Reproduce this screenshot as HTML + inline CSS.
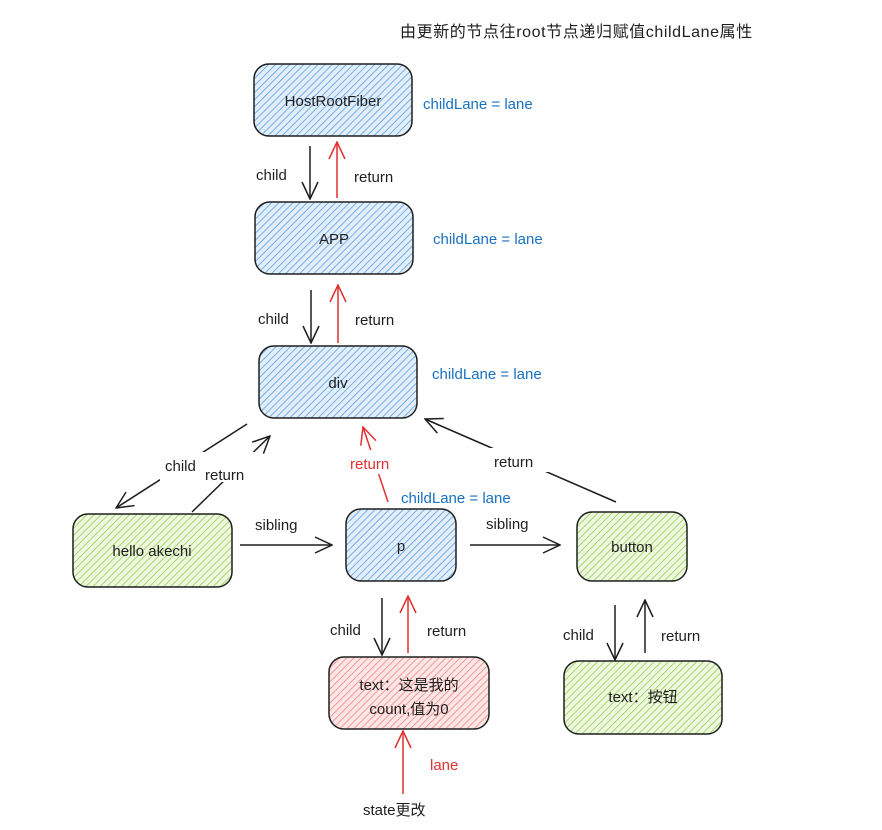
<!DOCTYPE html>
<html><head><meta charset="utf-8"><style>
html,body{margin:0;padding:0;background:#fff;}
svg{display:block;}
text{font-family:"Liberation Sans","Noto Sans CJK SC",sans-serif;font-size:15px;fill:#1e1e1e;}
.b{fill:#1971c2;}
.r{fill:#e03131;}
</style></head><body>
<svg width="882" height="830" viewBox="0 0 882 830" xmlns="http://www.w3.org/2000/svg">
<defs>
<pattern id="pb" width="5" height="5" patternUnits="userSpaceOnUse" patternTransform="rotate(45)"><rect width="5" height="5" fill="#e2eefa"/><line x1="0" y1="0" x2="0" y2="5" stroke="#6aa9e6" stroke-width="1.8"/></pattern>
<pattern id="pg" width="5" height="5" patternUnits="userSpaceOnUse" patternTransform="rotate(45)"><rect width="5" height="5" fill="#eef7e0"/><line x1="0" y1="0" x2="0" y2="5" stroke="#a2d35e" stroke-width="1.8"/></pattern>
<pattern id="pr" width="5" height="5" patternUnits="userSpaceOnUse" patternTransform="rotate(45)"><rect width="5" height="5" fill="#fde6e6"/><line x1="0" y1="0" x2="0" y2="5" stroke="#f29090" stroke-width="1.8"/></pattern>
<marker id="ak" viewBox="0 0 20 20" refX="19" refY="10" markerWidth="20" markerHeight="20" markerUnits="userSpaceOnUse" orient="auto"><path d="M2 2 L19 10 L2 18" fill="none" stroke="#1e1e1e" stroke-width="1.5"/></marker>
<marker id="ar" viewBox="0 0 20 20" refX="19" refY="10" markerWidth="20" markerHeight="20" markerUnits="userSpaceOnUse" orient="auto"><path d="M2 2 L19 10 L2 18" fill="none" stroke="#e03131" stroke-width="1.5"/></marker>
</defs>
<g stroke="#1e1e1e" stroke-width="1.5">
<rect x="254" y="64" width="158" height="72" rx="15" fill="url(#pb)"/>
<rect x="255" y="202" width="158" height="72" rx="15" fill="url(#pb)"/>
<rect x="259" y="346" width="158" height="72" rx="15" fill="url(#pb)"/>
<rect x="73" y="514" width="159" height="73" rx="15" fill="url(#pg)"/>
<rect x="346" y="509" width="110" height="72" rx="15" fill="url(#pb)"/>
<rect x="577" y="512" width="110" height="69" rx="15" fill="url(#pg)"/>
<rect x="329" y="657" width="160" height="72" rx="15" fill="url(#pr)"/>
<rect x="564" y="661" width="158" height="73" rx="15" fill="url(#pg)"/>
</g>
<g fill="none" stroke-width="1.5">
<line x1="310" y1="146" x2="310" y2="199" stroke="#1e1e1e" marker-end="url(#ak)"/>
<line x1="337" y1="198" x2="337" y2="142" stroke="#e03131" marker-end="url(#ar)"/>
<line x1="311" y1="290" x2="311" y2="343" stroke="#1e1e1e" marker-end="url(#ak)"/>
<line x1="338" y1="343" x2="338" y2="285" stroke="#e03131" marker-end="url(#ar)"/>
<line x1="247" y1="424" x2="116" y2="508" stroke="#1e1e1e" marker-end="url(#ak)"/>
<line x1="192" y1="512" x2="270" y2="436" stroke="#1e1e1e" marker-end="url(#ak)"/>
<line x1="388" y1="502" x2="363" y2="427" stroke="#e03131" marker-end="url(#ar)"/>
<line x1="616" y1="502" x2="425" y2="419" stroke="#1e1e1e" marker-end="url(#ak)"/>
<line x1="240" y1="545" x2="332" y2="545" stroke="#1e1e1e" marker-end="url(#ak)"/>
<line x1="470" y1="545" x2="560" y2="545" stroke="#1e1e1e" marker-end="url(#ak)"/>
<line x1="382" y1="598" x2="382" y2="655" stroke="#1e1e1e" marker-end="url(#ak)"/>
<line x1="408" y1="653" x2="408" y2="596" stroke="#e03131" marker-end="url(#ar)"/>
<line x1="615" y1="605" x2="615" y2="660" stroke="#1e1e1e" marker-end="url(#ak)"/>
<line x1="645" y1="653" x2="645" y2="600" stroke="#1e1e1e" marker-end="url(#ak)"/>
<line x1="403" y1="794" x2="403" y2="731" stroke="#e03131" marker-end="url(#ar)"/>
</g>
<rect x="160" y="452" width="100" height="30" fill="#fff"/>
<rect x="345" y="450" width="62" height="24" fill="#fff"/>
<rect x="488" y="448" width="66" height="24" fill="#fff"/>
<text x="400" y="37" style="font-size:16px;letter-spacing:0.6px">由更新的节点往root节点递归赋值childLane属性</text>
<text x="333" y="106" text-anchor="middle">HostRootFiber</text>
<text x="334" y="244" text-anchor="middle">APP</text>
<text x="338" y="388" text-anchor="middle">div</text>
<text x="152" y="556" text-anchor="middle">hello akechi</text>
<text x="401" y="551" text-anchor="middle">p</text>
<text x="632" y="552" text-anchor="middle">button</text>
<text x="409" y="690" text-anchor="middle">text：这是我的</text>
<text x="409" y="714" text-anchor="middle">count,值为0</text>
<text x="643" y="702" text-anchor="middle">text：按钮</text>
<text class="b" x="423" y="109">childLane = lane</text>
<text class="b" x="433" y="244">childLane = lane</text>
<text class="b" x="432" y="379">childLane = lane</text>
<text class="b" x="401" y="503">childLane = lane</text>
<text x="256" y="180">child</text>
<text x="354" y="182">return</text>
<text x="258" y="324">child</text>
<text x="355" y="325">return</text>
<text x="165" y="471">child</text>
<text x="205" y="480">return</text>
<text class="r" x="350" y="469">return</text>
<text x="494" y="467">return</text>
<text x="255" y="530">sibling</text>
<text x="486" y="529">sibling</text>
<text x="330" y="635">child</text>
<text x="427" y="636">return</text>
<text x="563" y="640">child</text>
<text x="661" y="641">return</text>
<text class="r" x="430" y="770">lane</text>
<text x="363" y="815">state更改</text>
</svg>
</body></html>
